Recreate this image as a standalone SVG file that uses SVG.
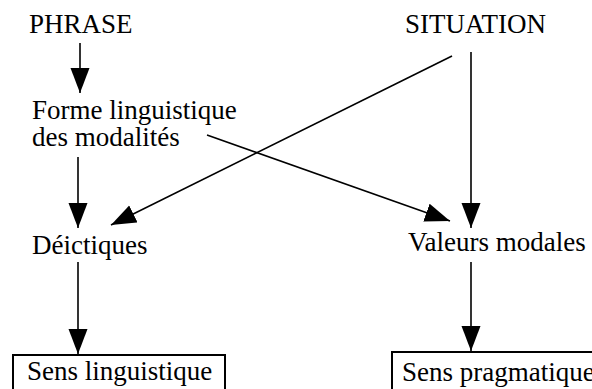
<svg xmlns="http://www.w3.org/2000/svg" width="592" height="389" viewBox="0 0 592 389">
<style>
.t{font-family:'Liberation Serif',Tinos,'Times New Roman',Times,'DejaVu Serif',serif;font-size:27px;fill:#000}
.c{stroke:#000;stroke-width:1.6;fill:none}
.box{fill:#fff;stroke:#000;stroke-width:2}
</style>
<defs>
<marker id="ah" markerUnits="userSpaceOnUse" markerWidth="26" markerHeight="20" refX="25" refY="9.5" orient="auto">
<path d="M0,0 L25,9.5 L0,19 z" fill="#000"/>
</marker>
</defs>
<rect width="592" height="389" fill="#fff"/>
<g id="connectors">
<line class="c" x1="80" y1="43" x2="80" y2="93" marker-end="url(#ah)"/>
<line class="c" x1="78" y1="157" x2="78" y2="228" marker-end="url(#ah)"/>
<line class="c" x1="78" y1="262" x2="78" y2="354" marker-end="url(#ah)"/>
<line class="c" x1="471" y1="52" x2="471" y2="228" marker-end="url(#ah)"/>
<line class="c" x1="471" y1="262" x2="471" y2="351" marker-end="url(#ah)"/>
<line class="c" x1="452" y1="56" x2="111" y2="225" marker-end="url(#ah)"/>
<line class="c" x1="207" y1="135" x2="450" y2="221" marker-end="url(#ah)"/>
</g>
<g id="phrase"><text class="t" font-family="Liberation Serif, serif" x="29" y="33">PHRASE</text></g>
<g id="situation"><text class="t" x="405" y="33">SITUATION</text></g>
<g id="forme"><text class="t" x="32" y="119">Forme linguistique</text><text class="t" x="32" y="146">des modalités</text></g>
<g id="deictiques"><text class="t" x="32" y="254">Déictiques</text></g>
<g id="valeurs"><text class="t" x="408" y="251">Valeurs modales</text></g>
<g id="sens-linguistique"><rect class="box" x="13" y="355" width="212" height="40"/><text class="t" x="27" y="380">Sens linguistique</text></g>
<g id="sens-pragmatique"><rect class="box" x="392" y="352" width="210" height="40"/><text class="t" x="402" y="381">Sens pragmatique</text></g>
</svg>
